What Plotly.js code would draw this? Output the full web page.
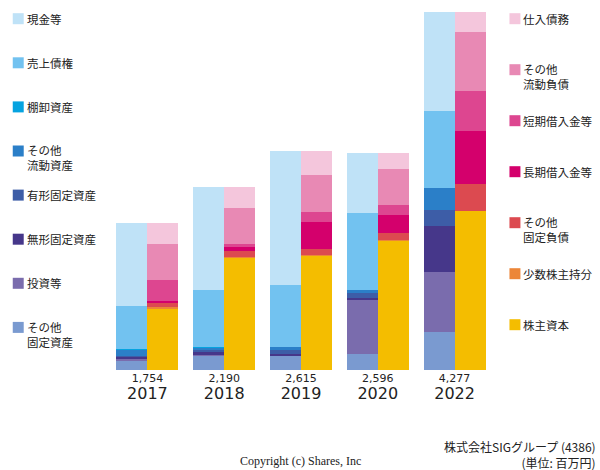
<!DOCTYPE html>
<html>
<head>
<meta charset="utf-8">
<script src="https://cdn.plot.ly/plotly-3.0.1.min.js"></script>
<style>html,body{margin:0;padding:0;background:#fff;}#chart{width:600px;height:470px;}</style>
</head>
<body>
<div id="chart"></div>
<script>
// ---- data (百万円) ----
const years = ['2017', '2018', '2019', '2020', '2022'];
const totals = [1754, 2190, 2615, 2596, 4277];

// assets (left bar), listed top -> bottom as in the legend
const assetNames = ['現金等', '売上債権', '棚卸資産', 'その他\n流動資産', '有形固定資産', '無形固定資産', '投資等', 'その他\n固定資産'];
const cash            = [995, 1230, 1599, 720, 1183];
const receivables     = [506, 681, 737, 920, 916];
const inventory       = [12, 12, 0, 0, 0];
const otherCurAssets  = [68, 24, 36, 32, 271];
const tangible        = [16, 24, 48, 68, 183];
const intangible      = [20, 40, 28, 16, 558];
const investments     = [26, 8, 0, 649, 716];
const otherFixedAssets= [111, 171, 167, 191, 450];

// liabilities & equity (right bar), top -> bottom
const liabNames = ['仕入債務', 'その他\n流動負債', '短期借入金等', '長期借入金等', 'その他\n固定負債', '少数株主持分', '株主資本'];
const payables        = [251, 259, 287, 199, 239];
const otherCurLiab    = [426, 426, 442, 430, 705];
const shortDebt       = [251, 40, 119, 116, 478];
const longDebt        = [20, 40, 327, 219, 633];
const otherFixedLiab  = [56, 72, 64, 80, 319];
const minority        = [16, 16, 16, 16, 0];
const equity          = [734, 1337, 1360, 1536, 1903];

const assetColors = ['#bfe2f7', '#72c2f0', '#05a3e0', '#2b7fc8', '#3d5da7', '#46378a', '#7a6cad', '#7a9ad0'];
const liabColors  = ['#f4c6dc', '#e889b4', '#dd4690', '#d4006c', '#dc4a50', '#ec8638', '#f4bd00'];

const assetSeries = [cash, receivables, inventory, otherCurAssets, tangible, intangible, investments, otherFixedAssets];
const liabSeries  = [payables, otherCurLiab, shortDebt, longDebt, otherFixedLiab, minority, equity];

// ---- layout geometry ----
const W = 600, H = 470, L = 108.5, R = 106.5, T = 12, B = 100;
const pw = W - L - R, ph = H - T - B;
const px = X => (X - L) / pw;
const py = Y => (H - B - Y) / ph;
const BW = 0.4026;
const jp = 'Noto Sans CJK JP';
const dv = 'DejaVu Sans';

const traces = [];
// stack bottom -> top
for (let i = assetSeries.length - 1; i >= 0; i--) {
  traces.push({type: 'bar', x: years, y: assetSeries[i], name: assetNames[i].replace('\n', ''),
    xaxis: 'x', yaxis: 'y', offset: -BW, width: BW,
    marker: {color: assetColors[i], line: {width: 0}}, hoverinfo: 'name+y', showlegend: false});
}
for (let i = liabSeries.length - 1; i >= 0; i--) {
  traces.push({type: 'bar', x: years, y: liabSeries[i], name: liabNames[i].replace('\n', ''),
    xaxis: 'x2', yaxis: 'y', offset: 0, width: BW,
    marker: {color: liabColors[i], line: {width: 0}}, hoverinfo: 'name+y', showlegend: false});
}

const annotations = [];
const shapes = [];

// custom legends
function addLegend(names, colors, sqX, txtX, y0, step) {
  names.forEach((n, i) => {
    const c = y0 + i * step;
    shapes.push({type: 'rect', xref: 'paper', yref: 'paper', x0: px(sqX), x1: px(sqX + 11),
      y0: py(c + 5.5), y1: py(c - 5.5), fillcolor: colors[i], line: {width: 0}});
    const lines = n.split('\n');
    const cy = c + (lines.length - 1) * 7;
    annotations.push({xref: 'paper', yref: 'paper', x: px(txtX), y: py(cy), text: lines.join('<br>'),
      showarrow: false, xanchor: 'left', yanchor: 'middle', align: 'left',
      font: {family: jp, size: 11.5, color: '#222'}});
  });
}
addLegend(assetNames, assetColors, 12, 24, 18.7, 44.1);
addLegend(liabNames, liabColors, 510, 522, 18.7, 51);

// footer
annotations.push({xref: 'paper', yref: 'paper', x: px(300), y: py(461), text: 'Copyright (c) Shares, Inc',
  showarrow: false, xanchor: 'center', yanchor: 'middle', font: {family: 'Liberation Serif', size: 12, color: '#222'}});
annotations.push({xref: 'paper', yref: 'paper', x: px(599), y: py(454), text: '株式会社SIGグループ (4386)<br>(単位: 百万円)',
  showarrow: false, xanchor: 'right', yanchor: 'middle', align: 'right', font: {family: jp, size: 12, color: '#222'}});

const maxTotal = Math.max(...totals);
const axBase = {type: 'category', categoryarray: years, range: [-0.5, years.length - 0.5], fixedrange: true,
  tickmode: 'array', tickvals: years, ticks: '', ticklen: 0, showgrid: false, zeroline: false, showline: false};
const layout = {
  width: W, height: H,
  font: {family: dv, color: '#222'},
  margin: {l: L, r: R, t: T, b: B, pad: 0},
  paper_bgcolor: '#fff', plot_bgcolor: '#fff',
  barmode: 'stack', bargap: 0,
  showlegend: false,
  xaxis: Object.assign({}, axBase, {ticktext: years, ticklabelstandoff: 12,
    tickfont: {family: dv, size: 16, color: '#222'}}),
  xaxis2: Object.assign({}, axBase, {overlaying: 'x', side: 'bottom', anchor: 'y',
    ticktext: totals.map(v => v.toLocaleString('en-US')), ticklabelstandoff: 0,
    tickfont: {family: dv, size: 11, color: '#222'}}),
  yaxis: {range: [0, maxTotal], visible: false, fixedrange: true},
  annotations: annotations,
  shapes: shapes
};

Plotly.newPlot('chart', traces, layout, {displayModeBar: false, staticPlot: true});
</script>
</body>
</html>
